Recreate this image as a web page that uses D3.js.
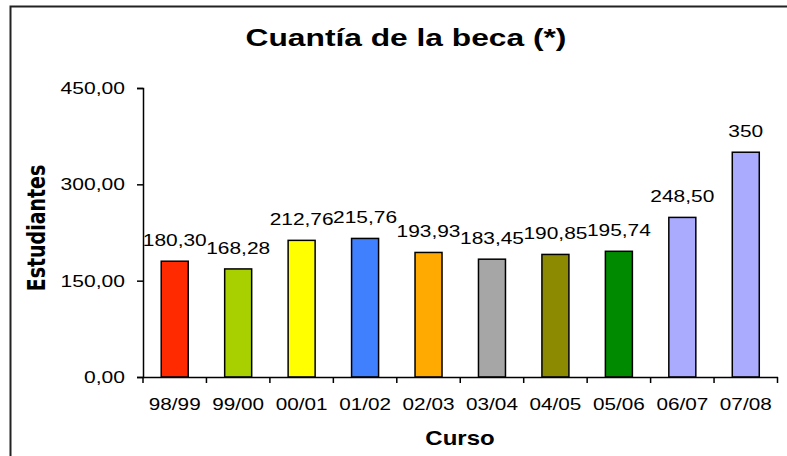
<!DOCTYPE html>
<html><head><meta charset="utf-8">
<script src="https://cdn.jsdelivr.net/npm/d3@7"></script>
<style>body{margin:0;background:#fff;}svg{display:block;}</style>
</head><body>
<script>
const categories = ["98/99","99/00","00/01","01/02","02/03","03/04","04/05","05/06","06/07","07/08"];
const values = [180.30,168.28,212.76,215.76,193.93,183.45,190.85,195.74,248.50,350];
const valueLabels = ["180,30","168,28","212,76","215,76","193,93","183,45","190,85","195,74","248,50","350"];
const barColors = ["#FF2A00","#A8D000","#FFFF00","#4080FF","#FFAA00","#A6A6A6","#8C8A00","#008A00","#AAAAFF","#AAAAFF"];
const yTicks = [0,150,300,450];
const yTickLabels = ["0,00","150,00","300,00","450,00"];
const title = "Cuantía de la beca (*)";
const xTitle = "Curso";
const yTitle = "Estudiantes";

const W = 787, H = 456;
const m = {left:143, right:10, top:88, bottom:79};
const svg = d3.select("body").append("svg").attr("width",W).attr("height",H);

svg.append("rect").attr("x",10.5).attr("y",6.5).attr("width",900).attr("height",600)
  .attr("fill","#fff").attr("stroke","#222").attr("stroke-width",2);

const x = d3.scaleBand().domain(categories).range([m.left, 777.5]).paddingInner(0).paddingOuter(0);
const y = d3.scaleLinear().domain([0,450]).range([H-m.bottom, m.top]);

const FONT = "'Liberation Sans', Arial, sans-serif";
function stext(g, str, px, py, size, sx, anchor, weight){
  return g.append("text").attr("transform",`translate(${px},${py}) scale(${sx},1)`)
    .attr("text-anchor",anchor).attr("font-family",FONT).attr("font-size",size)
    .attr("font-weight",weight||"normal").attr("fill","#000").text(str);
}

// bars
const bw = 27;
svg.append("g").selectAll("rect").data(values).join("rect")
  .attr("x",(d,i)=>x(categories[i])+x.bandwidth()/2-bw/2)
  .attr("y",d=>y(d)).attr("width",bw).attr("height",d=>y(0)-y(d))
  .attr("fill",(d,i)=>barColors[i]).attr("stroke","#000").attr("stroke-width",1.5);

// y axis
const yAxis = d3.axisLeft(y).tickValues(yTicks).tickSize(6).tickFormat("");
const gy = svg.append("g").attr("transform",`translate(${m.left},0)`).call(yAxis);
gy.select(".domain").attr("stroke","#000").attr("stroke-width",1.5);
gy.selectAll(".tick line").attr("stroke","#000").attr("stroke-width",1.5);
yTicks.forEach((t,i)=>stext(svg, yTickLabels[i], 125, y(t)+6, 17, 1.24, "end"));

// x axis
const xAxis = d3.axisBottom(x).tickSize(0).tickFormat("");
const gx = svg.append("g").attr("transform",`translate(0,${y(0)})`).call(xAxis);
gx.select(".domain").attr("stroke","#000").attr("stroke-width",1.5);
const bounds = categories.map(c=>x(c)).concat([x(categories[categories.length-1])+x.bandwidth()]);
gx.selectAll("line.sep").data(bounds).join("line").attr("class","sep")
  .attr("x1",d=>d).attr("x2",d=>d).attr("y1",0).attr("y2",6).attr("stroke","#000").attr("stroke-width",1.5);
categories.forEach(c=>stext(svg, c, x(c)+x.bandwidth()/2, y(0)+33, 17, 1.22, "middle"));

// value labels
values.forEach((v,i)=>stext(svg, valueLabels[i], x(categories[i])+x.bandwidth()/2, y(v)-15, 17, 1.23, "middle"));

// titles
stext(svg, title, 406, 46, 23, 1.38, "middle", "bold");
stext(svg, xTitle, 460, 445, 20, 1.2, "middle", "bold");
svg.append("text").attr("transform","translate(45,228) rotate(-90) scale(1,1.35)")
  .attr("text-anchor","middle").attr("font-family","'DejaVu Sans', Verdana, sans-serif")
  .attr("font-size",19).attr("font-weight","bold").text(yTitle);
</script>
</body></html>
